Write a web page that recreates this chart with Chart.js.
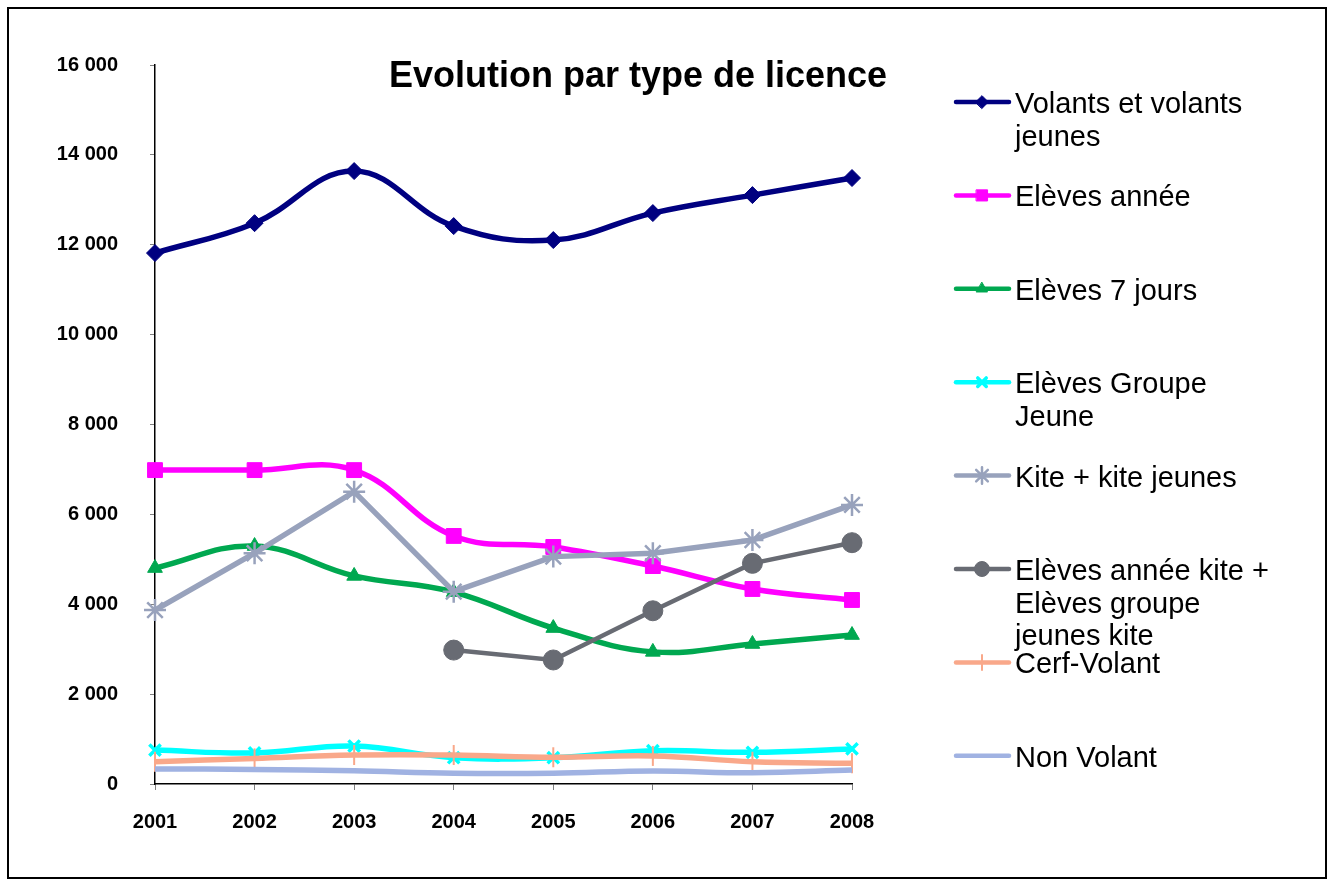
<!DOCTYPE html>
<html>
<head>
<meta charset="utf-8">
<script src="https://cdn.jsdelivr.net/npm/chart.js@4"></script>
<style>
  html, body { margin: 0; padding: 0; background: #fff; }
  #wrap { width: 1332px; height: 883px; position: relative; }
</style>
</head>
<body>
<div id="wrap"><canvas id="licences"></canvas></div>
<script>
// data
const years = ['2001', '2002', '2003', '2004', '2005', '2006', '2007', '2008'];
const yTicks = [0, 2000, 4000, 6000, 8000, 10000, 12000, 14000, 16000];

const volants = [11815, 12480, 13640, 12415, 12105, 12705, 13105, 13485];
const elevesAnnee = [6985, 6985, 6985, 5520, 5275, 4850, 4340, 4095];
const eleves7Jours = [4805, 5295, 4630, 4270, 3470, 2940, 3115, 3315];
const elevesGroupeJeune = [755, 690, 845, 585, 585, 740, 705, 780];
const kite = [3870, 5135, 6505, 4280, 5060, 5135, 5430, 6210];
const elevesKite = [null, null, null, 2980, 2760, 3855, 4910, 5370];
const cerfVolant = [495, 570, 645, 645, 595, 625, 495, 460];
const nonVolant = [335, 325, 295, 240, 240, 290, 250, 310];

const seriesNames = [
    ['Volants et volants', 'jeunes'],
    ['Elèves année'],
    ['Elèves 7 jours'],
    ['Elèves Groupe', 'Jeune'],
    ['Kite + kite jeunes'],
    ['Elèves année kite +', 'Elèves groupe', 'jeunes kite'],
    ['Cerf-Volant'],
    ['Non Volant']
];

const FONT = "'Liberation Sans', Arial, sans-serif";

function fmt(v){
    return String(v).replace(/\B(?=(\d{3})+(?!\d))/g, ' ');
}

function serie(idx, values, color, style, radius, extra){
    return Object.assign({
        label: seriesNames[idx].join(' '),
        data: values,
        borderColor: color,
        backgroundColor: color,
        borderWidth: 5.5,
        tension: 0.4,
        pointStyle: style,
        pointRadius: radius,
        pointHoverRadius: radius,
        pointBorderWidth: 1,
        order: 10 - idx
    }, extra || {});
}

const datasets = [
    serie(0, volants, '#000080', 'rectRot', 8.5),
    serie(1, elevesAnnee, '#FF00FF', 'rect', 10.5),
    serie(2, eleves7Jours, '#00A850', 'triangle', 8.5),
    serie(3, elevesGroupeJeune, '#00FFFF', 'crossRot', 8, {pointBorderWidth: 3.5}),
    serie(4, kite, '#98A2BC', 'star', 11, {tension: 0, pointBorderWidth: 2.5}),
    serie(5, elevesKite, '#686B73', 'circle', 10, {tension: 0, borderWidth: 4.5}),
    serie(6, cerfVolant, '#F9A88A', 'line', 10, {rotation: 90, pointBorderWidth: 2}),
    serie(7, nonVolant, '#A0B2E2', 'circle', 0)
];

// frame, title and the legend on the right
const decorations = {
    id: 'decorations',
    beforeDraw(chart){
        const ctx = chart.ctx;
        ctx.save();
        ctx.fillStyle = '#fff';
        ctx.fillRect(0, 0, chart.width, chart.height);
        ctx.restore();
    },
    afterDraw(chart){
        const ctx = chart.ctx;
        ctx.save();
        ctx.strokeStyle = '#000';
        ctx.lineWidth = 2;
        ctx.strokeRect(8, 8, 1318, 870);

        ctx.fillStyle = '#000';
        ctx.font = 'bold 36px ' + FONT;
        ctx.textAlign = 'center';
        ctx.textBaseline = 'alphabetic';
        ctx.fillText('Evolution par type de licence', 638, 87);

        ctx.font = '29px ' + FONT;
        ctx.textAlign = 'left';
        chart.data.datasets.forEach((ds, i) => {
            const y = 102 + i * 93.4;
            ctx.strokeStyle = ds.borderColor;
            ctx.lineWidth = 4.5;
            ctx.lineCap = 'round';
            ctx.beginPath();
            ctx.moveTo(956, y);
            ctx.lineTo(1009, y);
            ctx.stroke();
            if (ds.pointRadius > 0){
                ctx.fillStyle = ds.backgroundColor;
                ctx.lineWidth = ds.pointBorderWidth;
                Chart.helpers.drawPoint(ctx, {
                    pointStyle: ds.pointStyle,
                    radius: ds.pointRadius * 0.75,
                    borderWidth: ds.pointBorderWidth,
                    rotation: ds.rotation || 0
                }, 982, y);
            }
            ctx.fillStyle = '#000';
            seriesNames[i].forEach((line, j) => {
                ctx.fillText(line, 1015, y + 11 + j * 32.5);
            });
        });
        ctx.restore();
    }
};

new Chart(document.getElementById('licences'), {
    type: 'line',
    data: { labels: years, datasets: datasets },
    plugins: [decorations],
    options: {
        responsive: true,
        maintainAspectRatio: false,
        animation: false,
        layout: { padding: { top: 65, right: 480, left: 0, bottom: 0 } },
        plugins: {
            legend: { display: false },
            tooltip: { enabled: false }
        },
        scales: {
            x: {
                offset: false,
                grid: { display: true, drawOnChartArea: false, drawTicks: true, tickLength: 6, color: '#808080' },
                border: { display: true, color: '#000', width: 1.5 },
                ticks: { color: '#000', padding: 20, font: { family: FONT, size: 20, weight: 'bold' }, maxRotation: 0 },
                afterFit(scale){ scale.height = 99; }
            },
            y: {
                min: 0,
                max: 16000,
                afterBuildTicks(scale){ scale.ticks = yTicks.map(v => ({ value: v })); },
                grid: { display: true, drawOnChartArea: false, drawTicks: true, tickLength: 5, color: '#808080' },
                border: { display: true, color: '#000', width: 1.5 },
                ticks: {
                    color: '#000',
                    padding: 32,
                    font: { family: FONT, size: 20, weight: 'bold' },
                    callback: v => fmt(v)
                },
                afterFit(scale){ scale.width = 155; }
            }
        }
    }
});
</script>
</body>
</html>
